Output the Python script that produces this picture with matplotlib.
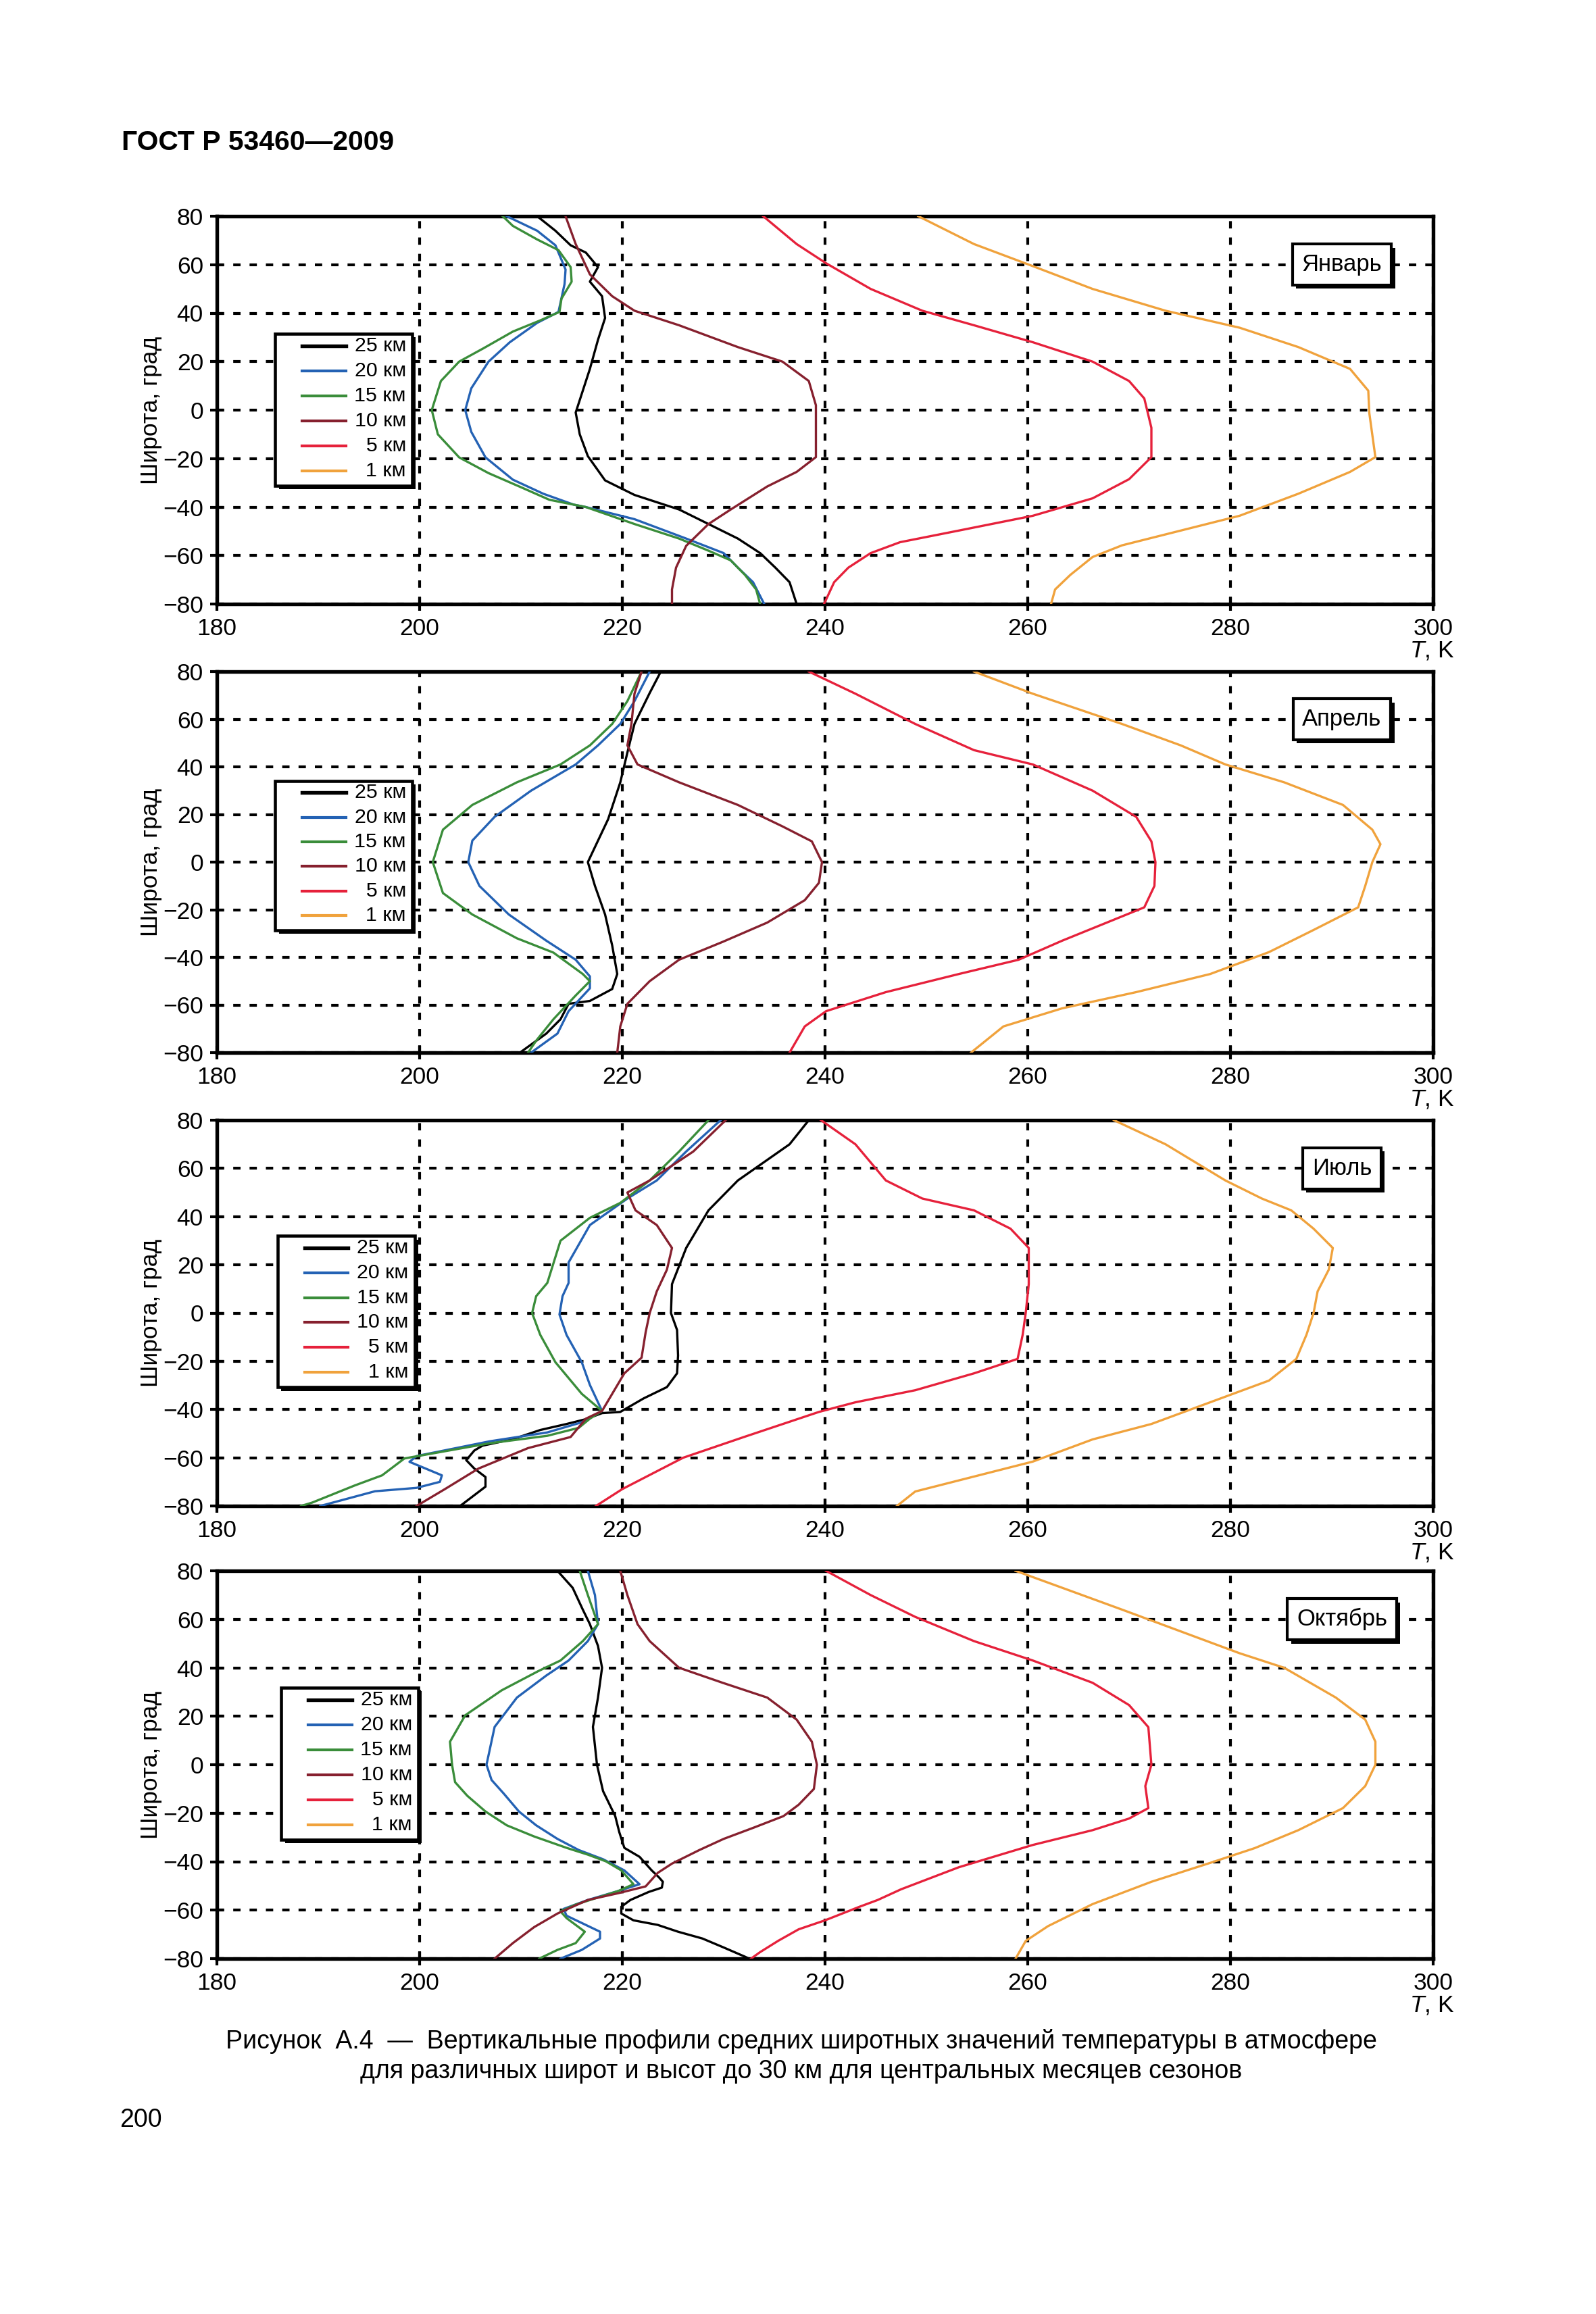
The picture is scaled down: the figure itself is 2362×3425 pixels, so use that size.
import matplotlib
matplotlib.use('Agg')
import matplotlib.pyplot as plt
import matplotlib.patheffects as pe
from matplotlib.patches import Rectangle
from matplotlib.lines import Line2D

plt.rcParams['font.family'] = ['Liberation Sans', 'DejaVu Sans']
plt.rcParams['mathtext.fontset'] = 'custom'
plt.rcParams['mathtext.it'] = 'Liberation Sans:italic'
plt.rcParams['mathtext.rm'] = 'Liberation Sans'

months = ['Январь', 'Апрель', 'Июль', 'Октябрь']
heights = ['25 км', '20 км', '15 км', '10 км', '\u20075 км', '\u20071 км']
colors = ['#000000', '#2462b4', '#3a8d3a', '#86202e', '#e6213b', '#f0a23c']
x_ticks = [180, 200, 220, 240, 260, 280, 300]
y_ticks = [-80, -60, -40, -20, 0, 20, 40, 60, 80]

# ---- Январь
jan_25_lat = [-80, -71, -65, -59, -53, -47, -41, -35, -29, -19, -10, -1, 8, 17, 29, 38, 47, 53, 59, 65, 68, 74, 80]
jan_25_t = [237.2, 236.5, 235.1, 233.6, 231.4, 228.5, 225.6, 221.2, 218.3, 216.6, 215.8, 215.4, 216.1, 216.8,
            217.6, 218.3, 218.0, 216.8, 217.6, 216.4, 214.9, 213.4, 211.6]
jan_20_lat = [-80, -71, -65, -59, -53, -45, -40, -39, -34.5, -28.7, -19.5, -9, 0, 9, 20, 28, 36, 40.5, 52, 58, 68, 74, 80]
jan_20_t = [234.0, 232.9, 231.4, 230.0, 226.3, 221.2, 216.4, 215.2, 212.2, 209.2, 206.5, 205.1, 204.5, 205.1,
            206.8, 208.9, 211.6, 213.7, 214.3, 214.4, 213.4, 211.6, 208.6]
jan_15_lat = [-80, -74, -68, -62, -58, -53, -47, -40, -37, -32, -26, -19.5, -10, 0, 12, 20, 25.5, 32.4, 37, 40.5,
              46, 53, 59, 66, 70.4, 76, 80]
jan_15_t = [233.6, 233.2, 232.1, 230.7, 228.5, 225.6, 221.2, 216.4, 212.8, 210.1, 206.8, 203.9, 201.8, 201.2,
            202.1, 203.9, 206.3, 209.2, 211.9, 213.8, 214.0, 215.0, 214.9, 213.7, 211.6, 209.2, 208.2]
jan_10_lat = [-80, -74, -65, -56, -47, -41, -31.5, -25.5, -19.4, -10, 2, 12, 20, 26, 35, 41, 47, 56, 68.5, 80]
jan_10_t = [224.9, 224.9, 225.3, 226.3, 228.5, 230.7, 234.3, 237.2, 239.1, 239.1, 239.1, 238.4, 235.8, 231.4,
            225.6, 221.2, 219.0, 216.8, 215.4, 214.4]
jan_5_lat = [-80, -71, -65, -59, -54.5, -49.7, -43.6, -36.4, -28.5, -19.4, -7.3, 4.8, 12, 20, 28, 35, 41, 50,
             60.6, 68.5, 80]
jan_5_t = [239.9, 240.9, 242.3, 244.5, 247.4, 253.2, 260.5, 266.4, 270.0, 272.2, 272.2, 271.5, 270.0, 266.4,
           260.5, 254.7, 249.6, 244.5, 240.1, 237.2, 233.9]
jan_1_lat = [-80, -74, -68, -60.6, -55.8, -49.7, -43.6, -34.5, -25.5, -19.4, -1.2, 8, 17, 26, 34, 41, 50, 59.4,
             68.5, 80]
jan_1_t = [262.3, 262.7, 264.2, 266.4, 269.3, 275.1, 280.9, 286.7, 291.8, 294.3, 293.7, 293.6, 291.8, 286.7,
           280.9, 273.6, 266.4, 260.5, 254.7, 249.2]

# ---- Апрель
apr_25_lat = [-80, -72, -66, -59.5, -58.3, -53.3, -47, -35, -22, -10, 0, 9, 18, 33.5, 46, 58, 71, 80]
apr_25_t = [209.9, 212.5, 213.9, 214.7, 216.8, 219.0, 219.5, 219.0, 218.3, 217.3, 216.6, 217.6, 218.6, 219.8,
            220.5, 221.2, 222.7, 223.8]
apr_20_lat = [-80, -72, -62.6, -53, -48, -41, -33, -22, -10, 0, 9, 19, 30, 41, 49, 58, 67.6, 80]
apr_20_t = [211.0, 213.6, 214.7, 216.8, 216.8, 215.4, 212.5, 208.8, 205.9, 204.8, 205.2, 207.4, 211.0, 215.4,
            217.6, 219.8, 221.2, 222.7]
apr_15_lat = [-80, -75, -66, -56, -50, -47, -38, -32, -22, -13, 0, 13.6, 24, 33.5, 41, 49, 58, 67.6, 80]
apr_15_t = [210.7, 211.5, 213.2, 215.4, 216.8, 216.1, 213.2, 209.6, 205.2, 202.3, 201.3, 202.3, 205.2, 209.6,
            213.9, 216.8, 219.0, 220.5, 221.9]
apr_10_lat = [-80, -69, -59.5, -50, -41, -33.5, -25.4, -16, -8.7, 0, 8.7, 15, 24, 33.5, 41, 49, 58, 70.7, 80]
apr_10_t = [219.5, 219.8, 220.5, 222.7, 225.6, 229.9, 234.3, 238.0, 239.4, 239.7, 238.7, 235.8, 231.4, 225.6,
            221.5, 220.5, 220.9, 221.2, 221.9]
apr_5_lat = [-80, -69, -62.6, -54.6, -47, -41, -33, -25.4, -19, -10, 0, 8.7, 19, 30, 41, 47, 58, 70.7, 80]
apr_5_t = [236.5, 238.0, 240.1, 246.0, 253.2, 259.1, 263.4, 267.8, 271.5, 272.5, 272.6, 272.2, 270.7, 266.4,
           260.5, 254.7, 248.9, 243.0, 238.4]
apr_1_lat = [-80, -69, -61.4, -54.6, -47, -37.8, -28.5, -19, -10, 0, 7.5, 13.6, 24, 33.5, 41, 49, 58, 70.7, 80]
apr_1_t = [254.4, 257.6, 263.4, 270.7, 278.0, 283.8, 288.2, 292.6, 293.3, 294.0, 294.8, 294.0, 291.1, 285.3,
           279.5, 275.1, 269.3, 260.5, 254.7]

# ---- Июль
jul_25_lat = [-80, -72, -68, -64.5, -61, -57, -55, -52.3, -48.5, -46, -44, -41.5, -41, -35.4, -30.7, -25, -17.6,
              -7, 0, 12, 27, 42.6, 55, 70, 80]
jul_25_t = [204.0, 206.5, 206.5, 205.4, 204.6, 205.4, 206.2, 209.2, 211.9, 214.5, 216.4, 218.0, 219.8, 222.1,
            224.4, 225.4, 225.5, 225.4, 224.8, 224.9, 226.3, 228.5, 231.4, 236.5, 238.4]
jul_20_lat = [-80, -73.9, -72.5, -70, -67.3, -61.7, -59.3, -53.2, -49.5, -45.3, -40.6, -29.8, -20.4, -9.1, -0.6,
              7, 12.5, 21, 36.5, 47.5, 55, 67, 80]
jul_20_t = [190.2, 195.6, 199.7, 202.0, 202.2, 199.0, 199.7, 206.9, 212.6, 216.0, 218.0, 216.8, 216.0, 214.5,
            213.8, 214.1, 214.7, 214.7, 216.8, 220.5, 223.4, 226.3, 229.7]
jul_15_lat = [-80, -78.6, -71.5, -67.3, -60.3, -54, -50.9, -47.6, -43.8, -40.6, -33.5, -20.4, -9, 0, 7, 12.5, 30,
              39.5, 45.7, 55, 67, 80]
jul_15_t = [188.3, 189.4, 193.6, 196.3, 198.5, 206.9, 212.6, 215.7, 216.8, 218.0, 216.0, 213.4, 211.9, 211.1,
            211.5, 212.6, 213.9, 216.8, 219.8, 222.7, 225.6, 228.5]
jul_10_lat = [-80, -73, -64.5, -56, -51.4, -43.8, -40.6, -25, -18.5, -8, 0, 9, 18, 27, 36.5, 42.6, 50, 55, 67, 80]
jul_10_t = [199.7, 202.5, 205.8, 210.7, 214.9, 216.4, 218.0, 220.2, 221.9, 222.3, 222.7, 223.4, 224.4, 224.9,
            223.4, 221.3, 220.5, 222.7, 227.0, 230.2]
jul_5_lat = [-80, -73, -60, -51.4, -41, -37, -32, -25, -19, -9, 0, 12, 27, 35, 42.6, 47.5, 55, 70, 80]
jul_5_t = [217.4, 220.0, 226.0, 232.0, 239.4, 243.0, 248.9, 254.7, 259.0, 259.5, 259.8, 260.1, 260.1, 258.3,
           254.7, 249.6, 246.0, 243.0, 239.6]
jul_1_lat = [-80, -74, -67.8, -61.6, -52.4, -46, -37, -28, -19, -9, 0, 9, 18, 27, 35, 42.6, 47.5, 55, 70, 80]
jul_1_t = [247.1, 248.9, 254.7, 260.5, 266.4, 272.2, 278.0, 283.8, 286.5, 287.5, 288.2, 288.6, 289.7, 290.1,
           288.2, 286.0, 283.1, 279.5, 273.6, 268.5]

# ---- Октябрь
oct_25_lat = [-80, -79.2, -75.4, -71.7, -68.9, -66.1, -64.2, -61.4, -58.6, -55.8, -52.5, -50.7, -48.3, -46.4,
              -43.6, -38, -34.3, -27.8, -21.2, -10.9, 0, 15.6, 27.7, 40, 49, 58, 64, 73, 80]
oct_25_t = [232.5, 232.1, 230.0, 227.9, 225.5, 223.5, 221.1, 219.9, 219.9, 220.8, 222.6, 223.9, 224.0, 223.6,
            222.9, 221.7, 220.2, 219.7, 219.3, 218.1, 217.5, 217.1, 217.6, 218.0, 217.6, 216.8, 216.1, 215.1, 213.6]
oct_20_lat = [-80, -76.4, -71.7, -68.9, -62.3, -59.5, -55.8, -52.1, -49.3, -43.6, -39, -35.2, -30.6, -25, -19.3,
              -11.9, -6.3, 0, 15.6, 27.7, 36.8, 43, 51, 58, 70, 80]
oct_20_t = [213.9, 216.0, 217.8, 217.8, 214.5, 214.2, 216.6, 219.6, 221.7, 220.2, 218.1, 215.7, 213.6, 211.5,
            209.8, 208.3, 207.1, 206.6, 207.4, 209.6, 212.5, 214.7, 216.6, 217.6, 217.3, 216.6]
oct_15_lat = [-80, -76.4, -73.6, -68.9, -63.3, -60.5, -57.7, -54.9, -52.1, -49.3, -43.6, -39.9, -37.1, -34.3,
              -29.6, -25, -19.3, -12.8, -7.2, 0, 9.5, 20.4, 30.7, 38.6, 43, 51, 58, 70, 80]
oct_15_t = [211.8, 213.6, 215.4, 216.3, 214.5, 213.9, 215.4, 217.5, 219.6, 221.1, 219.9, 218.4, 216.6, 214.5,
            211.3, 208.6, 206.5, 204.7, 203.5, 203.2, 203.0, 204.5, 208.1, 211.7, 213.9, 216.1, 217.6, 216.6, 215.8]
oct_10_lat = [-80, -73.6, -67, -61.4, -55.8, -53, -50.2, -44.6, -40.8, -35.2, -30.6, -25.9, -21.2, -16.5, -10, 0,
              9.5, 18.6, 27.7, 33.8, 40, 51, 58, 70, 80]
oct_10_t = [207.4, 209.2, 211.3, 213.6, 216.6, 219.6, 222.3, 223.5, 224.9, 227.6, 230.0, 233.0, 235.9, 237.4,
            238.9, 239.2, 238.7, 237.2, 234.3, 229.9, 225.6, 222.7, 221.5, 220.5, 219.8]
oct_5_lat = [-80, -77.3, -72.6, -67.9, -64.2, -58.6, -55.8, -51.4, -42.3, -33.1, -27, -22.2, -17.9, -8.8, 0, 15.5,
             24.6, 33.8, 43, 51, 61, 70, 80]
oct_5_t = [232.7, 233.6, 235.4, 237.4, 240.0, 243.4, 245.2, 247.5, 253.2, 260.5, 266.4, 270.0, 271.9, 271.6,
           272.2, 271.9, 270.0, 266.4, 260.5, 254.7, 248.9, 244.5, 240.1]
oct_1_lat = [-80, -72.7, -66.6, -57.5, -48.3, -40.5, -34.4, -27, -17.9, -8.8, 0, 9.5, 18.6, 27.7, 40, 46, 55, 64,
             73, 80]
oct_1_t = [258.8, 259.8, 262.0, 266.4, 272.2, 278.0, 282.4, 286.7, 291.1, 293.3, 294.3, 294.3, 293.3, 290.4,
           285.3, 280.9, 275.1, 269.3, 263.4, 258.8]

panels = [
    [(jan_25_t, jan_25_lat), (jan_20_t, jan_20_lat), (jan_15_t, jan_15_lat),
     (jan_10_t, jan_10_lat), (jan_5_t, jan_5_lat), (jan_1_t, jan_1_lat)],
    [(apr_25_t, apr_25_lat), (apr_20_t, apr_20_lat), (apr_15_t, apr_15_lat),
     (apr_10_t, apr_10_lat), (apr_5_t, apr_5_lat), (apr_1_t, apr_1_lat)],
    [(jul_25_t, jul_25_lat), (jul_20_t, jul_20_lat), (jul_15_t, jul_15_lat),
     (jul_10_t, jul_10_lat), (jul_5_t, jul_5_lat), (jul_1_t, jul_1_lat)],
    [(oct_25_t, oct_25_lat), (oct_20_t, oct_20_lat), (oct_15_t, oct_15_lat),
     (oct_10_t, oct_10_lat), (oct_5_t, oct_5_lat), (oct_1_t, oct_1_lat)],
]

# page geometry in pixels (2362 x 3425)
W, H = 2362, 3425
ax_left, ax_right = 321, 2121
ax_rows = [(320, 894), (994, 1558), (1658, 2229), (2325, 2899)]
key_pos = [(0.048, 0.697), (0.048, 0.713), (0.050, 0.700), (0.053, 0.699)]

fig = plt.figure(figsize=(W / 300, H / 300), dpi=300)

shadow = [pe.SimplePatchShadow(offset=(1.3, -1.3), shadow_rgbFace='black', alpha=1), pe.Normal()]


def draw_key(ax, x0, y0):
    w, h = 0.1125, 0.392
    box = Rectangle((x0, y0 - h), w, h, transform=ax.transAxes, fc='white',
                    ec='black', lw=1.1, zorder=8)
    box.set_path_effects(shadow)
    ax.add_patch(box)
    for i, (lab, c) in enumerate(zip(heights, colors)):
        yy = y0 - 0.031 - i * 0.0645
        ax.add_line(Line2D([x0 + 0.022, x0 + 0.058], [yy, yy], transform=ax.transAxes,
                           color=c, lw=1.3 if i == 0 else 1.0, zorder=9))
        ax.text(x0 + 0.1075, yy, lab, transform=ax.transAxes, ha='right', va='center',
                fontsize=7.3, zorder=9)


for k, (top, bot) in enumerate(ax_rows):
    rect = [ax_left / W, 1 - bot / H, (ax_right - ax_left) / W, (bot - top) / H]
    ax = fig.add_axes(rect)
    for (t, lat), c in zip(panels[k], colors):
        ax.plot(t, lat, color=c, lw=0.8, zorder=3)
    ax.set_xlim(180, 300)
    ax.set_ylim(-80, 80)
    ax.set_xticks(x_ticks)
    ax.set_yticks(y_ticks)
    ax.tick_params(direction='inout', length=5, width=1.0, labelsize=8.5, pad=2.3)
    ax.grid(True, color='black', lw=1.0, linestyle=(0, (2.6, 3.2)))
    for s in ax.spines.values():
        s.set_linewidth(1.3)
    ax.set_ylabel('Широта, град', fontsize=8.5)
    ax.yaxis.set_label_coords(-0.045, 0.5)
    ax.annotate('$T$, K', xy=(1, 0), xycoords='axes fraction', xytext=(7.5, -16.5),
                textcoords='offset points', ha='right', va='center', fontsize=8.5)
    lbl = ax.text(291, 60, months[k], ha='center', va='center', fontsize=8.3, zorder=8,
                  bbox=dict(boxstyle='square,pad=0.4', fc='white', ec='black', lw=1.0))
    lbl.get_bbox_patch().set_path_effects(shadow)
    draw_key(ax, *key_pos[k])

fig.text(180 / W, 1 - 222 / H, 'ГОСТ Р 53460—2009', fontsize=9.8, fontweight='bold',
         ha='left', va='baseline')
fig.text(1186 / W, 1 - 3022 / H,
         'Рисунок  А.4  —  Вертикальные профили средних широтных значений температуры в атмосфере',
         fontsize=9.0, ha='center', va='center')
fig.text(1186 / W, 1 - 3066 / H,
         'для различных широт и высот до 30 км для центральных месяцев сезонов',
         fontsize=9.0, ha='center', va='center')
fig.text(177 / W, 1 - 3148 / H, '200', fontsize=9, ha='left', va='baseline')

fig.savefig('out.png', dpi=300, facecolor='white')
